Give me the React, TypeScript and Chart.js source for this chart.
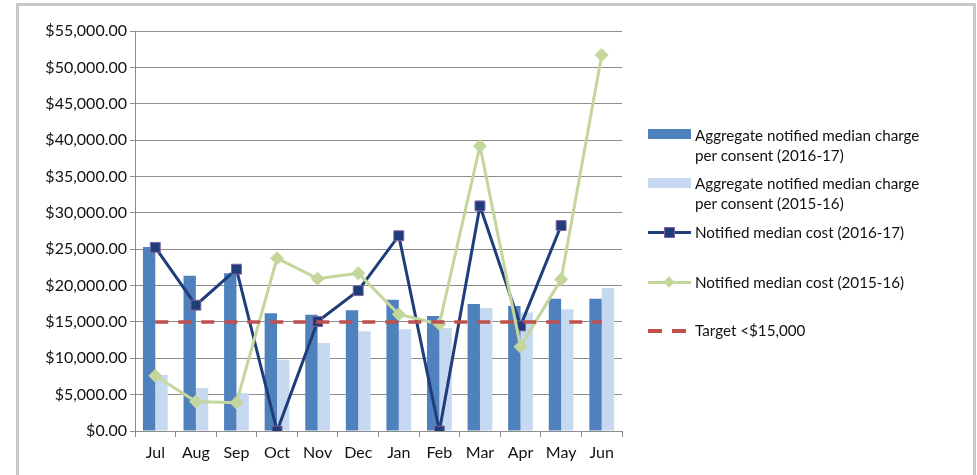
import React, { useEffect, useRef } from 'react';
import { Chart, registerables } from 'chart.js';

Chart.register(...registerables);

const months = ['Jul', 'Aug', 'Sep', 'Oct', 'Nov', 'Dec', 'Jan', 'Feb', 'Mar', 'Apr', 'May', 'Jun'];
const charge1617 = [25300, 21350, 21700, 16200, 16000, 16600, 18050, 15800, 17450, 17200, 18200, 18200];
const charge1516 = [7700, 5900, 5200, 9800, 12100, 13700, 14000, 14150, 16900, 16300, 16750, 19650];
const cost1617 = [25250, 17300, 22250, 0, 15050, 19300, 26850, 0, 30950, 14450, 28250, null];
const cost1516 = [7600, 4050, 3900, 23750, 20950, 21700, 16050, 14700, 39200, 11600, 20850, 51700];
const target = [15000, 15000, 15000, 15000, 15000, 15000, 15000, 15000, 15000, 15000, 15000, 15000];
const seriesNames = [
  'Aggregate notified median charge per consent (2016-17)',
  'Aggregate notified median charge per consent (2015-16)',
  'Notified median cost (2016-17)',
  'Notified median cost (2015-16)',
  'Target <$15,000',
];
const legendLines = [
  ['Aggregate notified median charge', 'per consent (2016-17)'],
  ['Aggregate notified median charge', 'per consent (2015-16)'],
  ['Notified median cost (2016-17)'],
  ['Notified median cost (2015-16)'],
  ['Target <$15,000'],
];
const yMin = 0;
const yMax = 55000;
const yStep = 5000;

const C_DARK = '#4f81bd';
const C_LIGHT = '#c6d9f1';
const C_NAVY = '#1f3d7a';
const C_PURPLE = '#8064a2';
const C_GREEN = '#c3d69b';
const C_RED = '#c0504d';
const C_GRID = '#8c8c8c';
const FONT = 'Lato';
const TEXT = '#111111';

export default function App() {
  const ref = useRef<HTMLCanvasElement | null>(null);

  useEffect(() => {
    if (!ref.current) return;
    const chart = new Chart(ref.current, {
      type: 'bar',
      data: {
        labels: months,
        datasets: [
          {
            type: 'line',
            label: seriesNames[4],
            data: target,
            borderColor: C_RED,
            borderWidth: 3.5,
            borderDash: [13, 10],
            pointRadius: 0,
            fill: false,
            order: 1,
          },
          {
            type: 'line',
            label: seriesNames[3],
            data: cost1516,
            borderColor: C_GREEN,
            backgroundColor: C_GREEN,
            borderWidth: 3,
            pointStyle: 'rectRot',
            pointRadius: 6.5,
            pointBackgroundColor: C_GREEN,
            pointBorderColor: C_GREEN,
            pointBorderWidth: 1,
            fill: false,
            tension: 0,
            order: 2,
          },
          {
            type: 'line',
            label: seriesNames[2],
            data: cost1617,
            borderColor: C_NAVY,
            backgroundColor: C_NAVY,
            borderWidth: 3,
            pointStyle: 'rect',
            pointRadius: 7,
            pointBackgroundColor: C_NAVY,
            pointBorderColor: C_PURPLE,
            pointBorderWidth: 1,
            fill: false,
            spanGaps: false,
            tension: 0,
            order: 3,
          },
          {
            type: 'bar',
            label: seriesNames[0],
            data: charge1617,
            backgroundColor: C_DARK,
            borderWidth: 0,
            categoryPercentage: 0.61,
            barPercentage: 1,
            order: 10,
          },
          {
            type: 'bar',
            label: seriesNames[1],
            data: charge1516,
            backgroundColor: C_LIGHT,
            borderWidth: 0,
            categoryPercentage: 0.61,
            barPercentage: 1,
            order: 11,
          },
        ],
      } as any,
      options: {
        animation: false,
        responsive: false,
        maintainAspectRatio: false,
        devicePixelRatio: 1,
        layout: { padding: { left: 0, top: 31, right: 355, bottom: 0 } },
        plugins: {
          legend: { display: false },
          tooltip: { enabled: false },
          title: { display: false },
        },
        scales: {
          x: {
            offset: true,
            grid: {
              display: true,
              offset: true,
              drawOnChartArea: false,
              drawTicks: true,
              tickLength: 6,
              color: C_GRID,
            },
            border: { display: true, color: C_GRID, width: 1 },
            ticks: {
              color: TEXT,
              font: { family: FONT, size: 16 },
              padding: 6,
              maxRotation: 0,
              autoSkip: false,
            },
            afterFit: (s: any) => {
              s.height = 44;
            },
          },
          y: {
            min: yMin,
            max: yMax,
            grid: {
              display: true,
              drawOnChartArea: true,
              drawTicks: true,
              tickLength: 5,
              color: C_GRID,
              lineWidth: 1,
            },
            border: { display: true, color: C_GRID, width: 1 },
            ticks: {
              stepSize: yStep,
              color: TEXT,
              font: { family: FONT, size: 16 },
              padding: 3,
              callback: (v: any) =>
                '$' + Number(v).toLocaleString('en-US', { minimumFractionDigits: 2, maximumFractionDigits: 2 }),
            },
            afterFit: (s: any) => {
              s.width = 135;
            },
          },
        },
      },
    });
    return () => chart.destroy();
  }, []);

  const textStyle: React.CSSProperties = {
    position: 'absolute',
    left: 695,
    fontFamily: FONT,
    fontSize: 15.2,
    lineHeight: '20px',
    color: TEXT,
    whiteSpace: 'nowrap',
  };

  return (
    <div
      style={{
        position: 'fixed',
        left: 0,
        top: 0,
        width: 977,
        height: 475,
        overflow: 'hidden',
        background: '#ffffff',
      }}
    >
      <div
        style={{
          position: 'absolute',
          left: 16,
          top: 3,
          width: 954,
          height: 520,
          border: '3px solid #c8c8c8',
          boxSizing: 'content-box',
        }}
      />
      <canvas
        ref={ref}
        width={977}
        height={475}
        style={{ position: 'absolute', left: 0, top: 0, width: 977, height: 475 }}
      />
      {/* legend */}
      <div style={{ position: 'absolute', left: 648, top: 129, width: 43, height: 10, background: C_DARK }} />
      <div style={{ ...textStyle, top: 125 }}>
        {legendLines[0][0]}
        <br />
        {legendLines[0][1]}
      </div>
      <div style={{ position: 'absolute', left: 648, top: 178, width: 43, height: 10, background: C_LIGHT }} />
      <div style={{ ...textStyle, top: 173 }}>
        {legendLines[1][0]}
        <br />
        {legendLines[1][1]}
      </div>
      <div style={{ position: 'absolute', left: 648, top: 231, width: 43, height: 3, background: C_NAVY }} />
      <div
        style={{
          position: 'absolute',
          left: 664,
          top: 227,
          width: 9,
          height: 9,
          background: C_NAVY,
          border: `1px solid ${C_PURPLE}`,
        }}
      />
      <div style={{ ...textStyle, top: 222 }}>{legendLines[2][0]}</div>
      <div style={{ position: 'absolute', left: 648, top: 281, width: 43, height: 3, background: C_GREEN }} />
      <div
        style={{
          position: 'absolute',
          left: 665,
          top: 278,
          width: 8,
          height: 8,
          background: C_GREEN,
          transform: 'rotate(45deg)',
        }}
      />
      <div style={{ ...textStyle, top: 272 }}>{legendLines[3][0]}</div>
      <div style={{ position: 'absolute', left: 648, top: 329, width: 14, height: 3.5, background: C_RED }} />
      <div style={{ position: 'absolute', left: 672, top: 329, width: 14, height: 3.5, background: C_RED }} />
      <div style={{ ...textStyle, top: 320 }}>{legendLines[4][0]}</div>
    </div>
  );
}
